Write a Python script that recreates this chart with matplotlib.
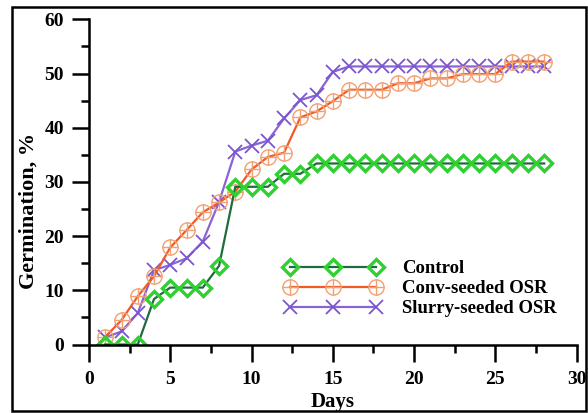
import matplotlib
matplotlib.use('Agg')
import matplotlib.pyplot as plt
from matplotlib.patches import Rectangle
from matplotlib.ticker import MultipleLocator

# Kiemingsdata per dag
days = list(range(1, 29))
control = [0, 0, 0, 8.4, 10.5, 10.5, 10.5, 14.5, 29.1, 29.1, 29.1, 31.5, 31.5, 33.4,
           33.4, 33.4, 33.4, 33.4, 33.4, 33.4, 33.4, 33.4, 33.4, 33.4, 33.4, 33.4, 33.4, 33.4]
conv_seeded = [1.4, 4.5, 8.9, 12.6, 17.9, 21.1, 24.4, 26.2, 28.2, 32.3, 34.6, 35.4, 41.9, 43.0,
               44.9, 47.0, 47.0, 47.0, 48.2, 48.2, 49.1, 49.1, 49.9, 49.9, 49.9, 52.2, 52.2, 52.2]
slurry_seeded = [1.3, 2.4, 5.8, 13.7, 14.7, 15.9, 19.0, 26.3, 35.6, 36.7, 37.6, 41.7, 45.1, 46.0,
                 50.3, 51.3, 51.3, 51.3, 51.3, 51.3, 51.3, 51.3, 51.3, 51.3, 51.3, 51.3, 51.3, 51.3]
labels = ['Control', 'Conv-seeded OSR', 'Slurry-seeded OSR']

plt.rcParams['font.family'] = ['Liberation Serif', 'DejaVu Serif']
plt.rcParams['font.weight'] = 'bold'

fig = plt.figure(figsize=(5.88, 4.13), dpi=100)
ax = fig.add_axes([89 / 588, 1 - 344.5 / 413, (576.7 - 89) / 588, (344.5 - 19.3) / 413])

# Slurry
l_slurry, = ax.plot(days, slurry_seeded, color='#8a63d8', lw=1.6, marker='x',
                    markersize=10, markeredgewidth=1.3, markeredgecolor='#7b55d0')
# Conv: cirkel + plus
l_conv, = ax.plot(days, conv_seeded, color='#f05a24', lw=1.6, marker='o', markersize=11,
                  markerfacecolor='none', markeredgecolor='#f2a072', markeredgewidth=1.0)
l_conv2, = ax.plot(days, conv_seeded, color='none', lw=0, marker='+', markersize=11,
                   markeredgecolor='#f2a072', markeredgewidth=1.0)
# Control
l_ctrl, = ax.plot(days, control, color='#1e6b3c', lw=1.6, marker='D', markersize=8,
                  markerfacecolor='none', markeredgecolor='#2fd02f', markeredgewidth=2.4)

ax.set_xlim(0, 30)
ax.set_ylim(0, 60)
ax.xaxis.set_major_locator(MultipleLocator(5))
ax.xaxis.set_minor_locator(MultipleLocator(2.5))
ax.yaxis.set_major_locator(MultipleLocator(10))
ax.yaxis.set_minor_locator(MultipleLocator(5))
ax.tick_params(which='major', direction='out', length=12, width=1.8, labelsize=14)
ax.tick_params(axis='x', which='major', pad=7)
ax.tick_params(axis='y', which='major', pad=6)
ax.tick_params(which='minor', direction='out', length=6, width=1.8)
for side in ['top', 'right']:
    ax.spines[side].set_visible(False)
for side in ['left', 'bottom']:
    ax.spines[side].set_linewidth(1.8)
for lab in ax.get_xticklabels() + ax.get_yticklabels():
    lab.set_fontweight('bold')

ax.set_xlabel('Days', fontsize=15, fontweight='bold')
ax.set_ylabel('Germination, %', fontsize=16, fontweight='bold')
ax.xaxis.set_label_coords(0.5, -0.145)
ax.yaxis.set_label_coords(-0.103, 0.41)

ax.legend([l_ctrl, (l_conv, l_conv2), l_slurry], labels, loc='upper left',
          bbox_to_anchor=(0.4, 0.26), frameon=False, numpoints=3, handlelength=5.2,
          prop={'weight': 'bold', 'size': 13.5}, labelspacing=0.16,
          handletextpad=1.1, borderpad=0, borderaxespad=0)

# Kader rond de figuur
fig.patches.append(Rectangle((12 / 588, 2 / 413), 574 / 588, 404 / 413, transform=fig.transFigure,
                             fill=False, edgecolor='black', linewidth=1.8))

plt.savefig('out.png', dpi=100)
